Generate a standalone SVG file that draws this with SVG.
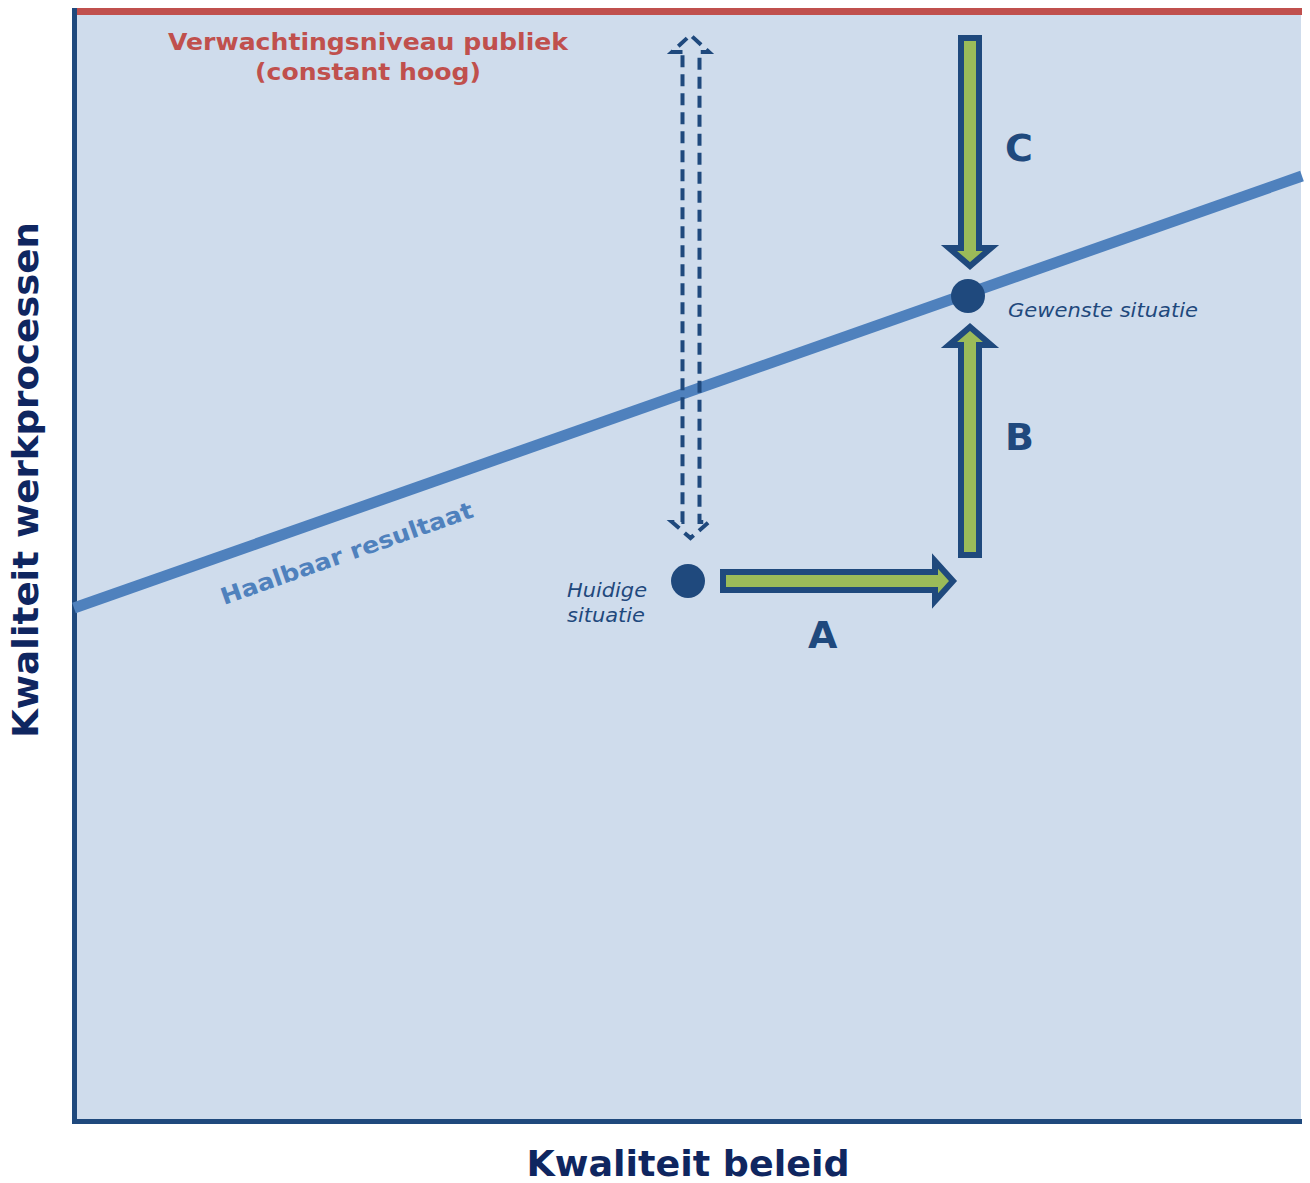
<svg xmlns="http://www.w3.org/2000/svg" width="1310" height="1183" viewBox="0 0 1310 1183">
<style>
.t{font-family:"DejaVu Sans",Verdana,sans-serif}
.b{font-weight:bold}
.i{font-style:italic}
.arrow{fill:#9BBB59;stroke:#1F497D;stroke-width:6;stroke-linejoin:miter}
.dot{fill:#1F497D}
.lbl{font-size:38px;fill:#1F497D;font-weight:bold}
.sit{font-size:19px;fill:#1F497D;font-style:italic}
.axis{font-size:35px;fill:#0F2660;font-weight:bold}
</style>
<rect width="1310" height="1183" fill="#FFFFFF"/>
<g id="plot">
<rect x="74" y="8" width="1227" height="1114" fill="#CFDCEC"/>
<line x1="74" y1="11.5" x2="1302" y2="11.5" stroke="#C0504D" stroke-width="7"/>
<line x1="74.5" y1="8" x2="74.5" y2="1124" stroke="#1F497D" stroke-width="5"/>
<line x1="72" y1="1121.5" x2="1302" y2="1121.5" stroke="#1F497D" stroke-width="5"/>
</g>
<g id="haalbaar">
<line x1="74" y1="608" x2="1302" y2="176" stroke="#4F81BD" stroke-width="11"/>
<text class="t b" font-size="23" fill="#4F81BD" textLength="266" lengthAdjust="spacingAndGlyphs" transform="translate(224,605) rotate(-19.4)">Haalbaar resultaat</text>
</g>
<g id="connectors">
<path d="M682.5,52 L672,52 L690.5,35 L709,52 L699.5,52 L699.5,522 L709,522 L690.5,538 L672,522 L682.5,522 Z" fill="none" stroke="#1F497D" stroke-width="4" stroke-dasharray="12,7"/>
<path id="arrowC" class="arrow" d="M961,38 L979,38 L979,248 L991,248 L970,266 L949,248 L961,248 Z"/>
<path id="arrowB" class="arrow" d="M961,555 L979,555 L979,345 L991,345 L970,327 L949,345 L961,345 Z"/>
<path id="arrowA" class="arrow" d="M723,572 L935,572 L935,561 L953,581 L935,601 L935,590 L723,590 Z"/>
</g>
<g id="verwachting">
<text class="t b" font-size="23" fill="#C0504D" text-anchor="middle" x="368" y="50" textLength="400" lengthAdjust="spacingAndGlyphs">Verwachtingsniveau publiek</text>
<text class="t b" font-size="23" fill="#C0504D" text-anchor="middle" x="368" y="80" textLength="226" lengthAdjust="spacingAndGlyphs">(constant hoog)</text>
</g>
<g id="gewenste">
<circle class="dot" cx="968" cy="296" r="17"/>
<text class="t sit" x="1008" y="317" textLength="190" lengthAdjust="spacingAndGlyphs">Gewenste situatie</text>
</g>
<g id="huidige">
<circle class="dot" cx="688" cy="581" r="17"/>
<text class="t sit" x="567" y="597" textLength="80" lengthAdjust="spacingAndGlyphs">Huidige</text>
<text class="t sit" x="567" y="622" textLength="78" lengthAdjust="spacingAndGlyphs">situatie</text>
</g>
<g id="labels">
<text class="t lbl" x="1005" y="161">C</text>
<text class="t lbl" x="1005" y="450">B</text>
<text class="t lbl" x="808" y="648">A</text>
</g>
<g id="axes-labels">
<text class="t axis" text-anchor="middle" x="688" y="1176" textLength="323" lengthAdjust="spacingAndGlyphs">Kwaliteit beleid</text>
<text class="t axis" text-anchor="middle" transform="translate(38,480) rotate(-90)" textLength="516" lengthAdjust="spacingAndGlyphs">Kwaliteit werkprocessen</text>
</g>
</svg>
